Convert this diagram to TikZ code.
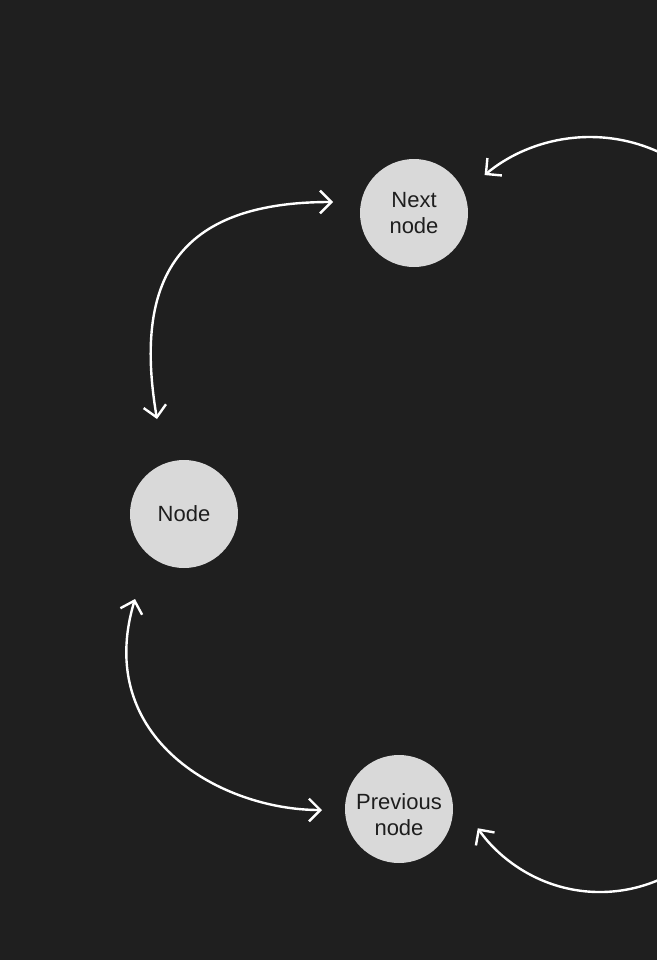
\documentclass[tikz,border=0pt]{standalone}
\usepackage{fontspec}
\setmainfont{Liberation Sans}
\usetikzlibrary{arrows.meta}
\definecolor{bg}{HTML}{1F1F1F}
\definecolor{nodefill}{HTML}{D9D9D9}
\definecolor{txt}{HTML}{1E1E1E}
\tikzset{
  barb/.tip={Straight Barb[length=8.5pt,width=17pt]},
  circ/.style={circle,fill=nodefill,minimum size=81pt,inner sep=0pt,align=center,
    text=txt,font=\fontsize{16.5pt}{19.5pt}\selectfont},
  ctext/.style={inner sep=0pt,align=center,text=txt,font=\fontsize{16.5pt}{19.5pt}\selectfont},
  link/.style={draw=white,line width=1.8pt}
}
\begin{document}
\begin{tikzpicture}[x=0.75pt,y=-0.75pt]
\fill[bg] (0,0) rectangle (657,960);
\useasboundingbox (0,0) rectangle (657,960);
\clip (0,0) rectangle (657,960);

\node[circ] (next) at (414,213) {Next\\node};
\node[circ] (node) at (184,514) {Node};
\node[circ] (prev) at (399,809) {};
\node[ctext] (prevtext) at (399,815) {Previous\\node};

\coordinate (ulA) at (157,419);
\coordinate (ulB) at (333,202);
\draw[link,barb-barb] (ulA) .. controls (131.8,271) and (185,202) .. (ulB);

\coordinate (llA) at (135,599);
\coordinate (llB) at (322,810);
\draw[link,barb-barb] (llA) .. controls (93,739) and (222,810) .. (llB);

\coordinate (urA) at (732.9,219.5);
\draw[link,-barb] (urA) arc[start angle=330,end angle=230.3,radius=165];

\coordinate (lrA) at (729,817.5);
\draw[link,-barb] (lrA) arc[start angle=30,end angle=145.1,radius=149];
\end{tikzpicture}
\end{document}
